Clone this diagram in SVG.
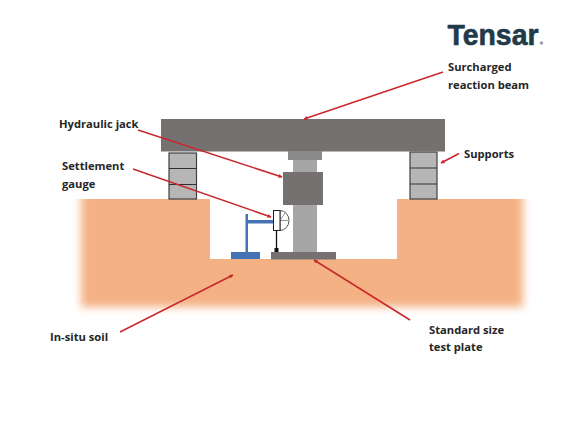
<svg xmlns="http://www.w3.org/2000/svg" width="580" height="422" viewBox="0 0 580 422">
<style>
.lbl{font-family:"Open Sans","Liberation Sans",sans-serif;font-weight:700;font-size:11.2px;fill:#262626}
.dark{fill:#767171}
.sup{fill:#b6b6b6;stroke:#404040;stroke-width:1.2}
.lead{stroke:#c8282d;stroke-width:1.5;fill:none;marker-end:url(#ah)}
.blue{fill:#4472b4}
</style>
<defs>
<marker id="ah" markerWidth="4" markerHeight="4" refX="3.5" refY="2" orient="auto" markerUnits="userSpaceOnUse"><path d="M0 0L4 2L0 4Z" fill="#c8282d"/></marker>
<filter id="soft" x="-10%" y="-20%" width="120%" height="140%"><feGaussianBlur stdDeviation="4"/></filter>
<clipPath id="soilclip"><rect x="60" y="199" width="490" height="130"/></clipPath>
</defs>
<rect width="580" height="422" fill="#fff"/>
<g id="soil">
<g clip-path="url(#soilclip)"><rect x="81" y="170" width="442" height="137" fill="#f4b183" filter="url(#soft)"/></g>
<rect x="210" y="190" width="187" height="69" fill="#fff"/>
</g>
<g id="left-support">
<rect class="sup" x="169" y="153" width="27.5" height="46"/>
<path d="M169 168.500H196.500M169 184.500H196.500" stroke="#303030" stroke-width="1.2"/>
</g>
<g id="right-support">
<rect class="sup" x="410" y="152" width="27" height="47"/>
<path d="M410 168H437M410 184H437" stroke="#303030" stroke-width="1.2"/>
</g>
<g id="reaction-beam"><rect class="dark" x="161" y="119" width="284" height="32.500"/></g>
<g id="jack-column">
<rect x="288" y="151" width="34" height="9" fill="#8a8a8a"/>
<rect x="293" y="160" width="24" height="92" fill="#a6a6a6"/>
</g>
<g id="hydraulic-jack"><rect class="dark" x="283" y="172" width="40" height="33"/></g>
<g id="test-plate"><rect class="dark" x="271" y="252" width="65" height="7.500"/></g>
<g id="gauge-stand">
<rect class="blue" x="231" y="252" width="29" height="7"/>
<rect class="blue" x="245.500" y="214" width="2.500" height="38"/>
<rect class="blue" x="248" y="220" width="25" height="3.500"/>
</g>
<g id="settlement-gauge">
<path d="M280 210.500A9 10 0 0 1 280 230.500Z" fill="#fff" stroke="#555" stroke-width="1"/>
<path d="M280 220.500H288M280 220.500L285 213" stroke="#777" stroke-width="0.800"/>
<rect x="273.500" y="210.500" width="6.500" height="20" fill="#fff" stroke="#222" stroke-width="1"/>
<path d="M276.500 230.500V249" stroke="#111" stroke-width="1.300"/>
<rect x="274.500" y="248" width="4" height="4" fill="#111"/>
</g>
<g id="connectors">
<path class="lead" d="M443 72L304 119"/>
<path class="lead" d="M138 130L282 177"/>
<path class="lead" d="M133 169L271 217"/>
<path class="lead" d="M459 153.500L441 163"/>
<path class="lead" d="M410 320L314 260"/>
<path class="lead" d="M120 332L233 275"/>
</g>
<g id="logo">
<text x="447.500" y="44.500" font-family="'Liberation Sans',Arial,sans-serif" font-weight="700" font-size="29" fill="#1f3a48" stroke="#1f3a48" stroke-width="0.600" textLength="91" lengthAdjust="spacingAndGlyphs">Tensar</text>
<circle cx="541.500" cy="43" r="1.800" fill="#9aa3a8"/>
</g>
<g id="labels">
<text class="lbl" x="448" y="71">Surcharged</text>
<text class="lbl" x="448" y="89">reaction beam</text>
<text class="lbl" x="59" y="128">Hydraulic jack</text>
<text class="lbl" x="62" y="170">Settlement</text>
<text class="lbl" x="62" y="188">gauge</text>
<text class="lbl" x="464" y="158">Supports</text>
<text class="lbl" x="50" y="341">In-situ soil</text>
<text class="lbl" x="429" y="334">Standard size</text>
<text class="lbl" x="429" y="351">test plate</text>
</g>
</svg>
